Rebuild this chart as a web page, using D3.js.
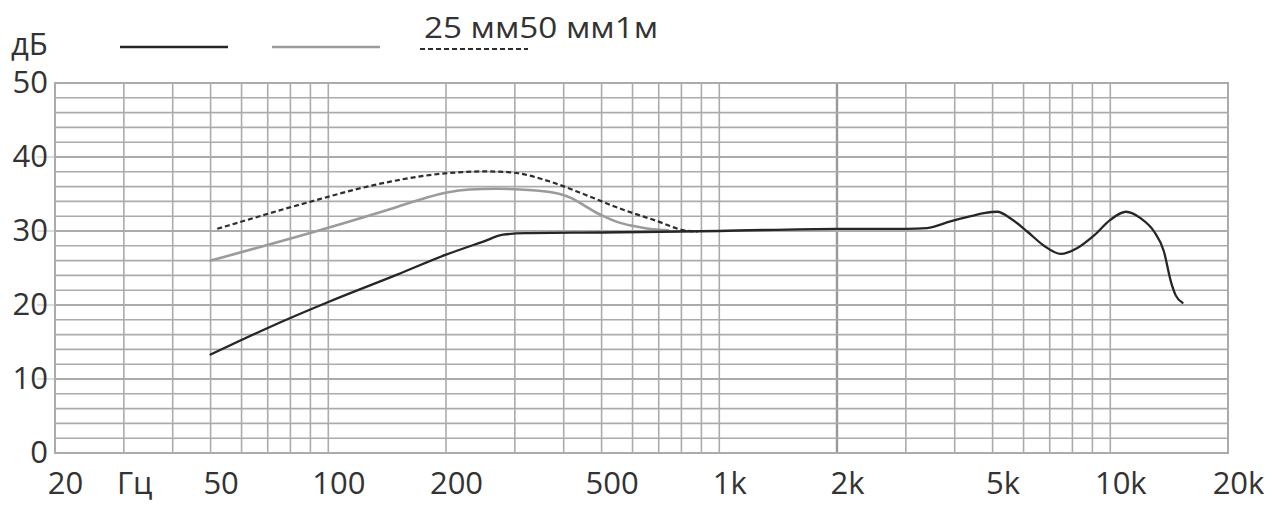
<!DOCTYPE html>
<html><head><meta charset="utf-8">
<script src="https://cdn.jsdelivr.net/npm/d3@7"></script>
<style>
body{margin:0;background:#fff;}
svg{display:block;background:#fff;}
text{font-family:"Open Sans","Noto Sans",sans-serif;fill:#333;}
</style>
</head><body>
<svg id="c" width="1273" height="507"></svg>
<script>
// ---------- data ----------
const seriesNames = ["25 мм", "50 мм", "1м"];

const freq25 = [50, 70, 100, 150, 200, 250, 280, 320, 500, 1000, 2000, 3000, 3400, 3900, 4400, 4750, 5140, 5560, 6140, 6770, 7470, 8240, 9090, 10000, 10960, 11970, 12950, 13700, 14300, 14700, 15300];
const db25   = [13.3, 16.9, 20.4, 24.1, 26.8, 28.6, 29.5, 29.7, 29.8, 30.0, 30.3, 30.3, 30.4, 31.3, 32.0, 32.4, 32.6, 31.7, 29.9, 28.0, 26.9, 27.7, 29.4, 31.5, 32.6, 31.7, 29.9, 27.3, 23.1, 21.3, 20.3];

const freq50 = [50, 101, 145, 178, 201, 230, 270, 333, 391, 420, 450, 480, 510, 550, 600, 660, 740];
const db50   = [26.0, 30.5, 33.0, 34.5, 35.2, 35.6, 35.7, 35.5, 35.0, 34.4, 33.5, 32.6, 31.9, 31.2, 30.7, 30.3, 30.1];

const freq1m = [52, 63, 77.5, 95, 117, 145, 178, 219, 250, 280, 306, 368, 454, 559, 688, 812, 880];
const db1m   = [30.3, 31.6, 33.0, 34.3, 35.6, 36.7, 37.5, 37.95, 38.05, 38.0, 37.8, 36.7, 34.9, 33.0, 31.4, 30.1, 29.9];

const xTickValues = [20, 50, 100, 200, 500, 1000, 2000, 5000, 10000, 20000];
const xTickLabels = ["20", "50", "100", "200", "500", "1k", "2k", "5k", "10k", "20k"];
const yTickValues = [0, 10, 20, 30, 40, 50];
const xUnit = "Гц";
const yUnit = "дБ";

// ---------- layout ----------
const svg = d3.select("#c");
const L = 55, R = 1228, T = 83, B = 453;
const x = d3.scaleLog().domain([20, 20000]).range([L, R]);
const y = d3.scaleLinear().domain([0, 50]).range([B, T]);

const gridColor = "#ababab";

// vertical grid (1..9 per decade)
const vLines = [];
[10, 100, 1000, 10000].forEach(d => {
  for (let m = 1; m <= 9; m++) { const v = m * d; if (v > 20 && v < 20000) vLines.push(v); }
});
// horizontal grid every 2 dB
const hLines = d3.range(0, 51, 2);

const grid = svg.append("g");
grid.selectAll("line.v").data(vLines).join("line")
  .attr("x1", d => x(d)).attr("x2", d => x(d)).attr("y1", T).attr("y2", B)
  .attr("stroke", d => d === 2000 ? "#999" : gridColor)
  .attr("stroke-width", d => d === 2000 ? 2.4 : 1.6);
grid.selectAll("line.h").data(hLines).join("line")
  .attr("x1", L).attr("x2", R).attr("y1", d => y(d)).attr("y2", d => y(d))
  .attr("stroke", gridColor)
  .attr("stroke-width", d => (d % 10 === 0 && d > 0 && d < 50) ? 2.2 : 1.6);
// faint extensions of the major lines to the left
grid.selectAll("line.ext").data(yTickValues.filter(d => d > 0 && d < 50)).join("line")
  .attr("x1", L - 18).attr("x2", L).attr("y1", d => y(d)).attr("y2", d => y(d))
  .attr("stroke", "#d4d4d4").attr("stroke-width", 1.6);
grid.append("rect").attr("x", L).attr("y", T).attr("width", R - L).attr("height", B - T)
  .attr("fill", "none").attr("stroke", gridColor).attr("stroke-width", 2);

// axes
const yAxis = d3.axisLeft(y).tickValues(yTickValues).tickSize(0).tickPadding(7).tickFormat(d3.format("d"));
const gy = svg.append("g").attr("transform", `translate(${L},0)`).call(yAxis);
gy.select(".domain").remove();
gy.selectAll("text").attr("font-size", 31).attr("font-family", null).attr("fill", "#333")
  .attr("dy", "0.32em").attr("y", 0);

const xAxis = d3.axisBottom(x).tickValues(xTickValues).tickSize(0).tickPadding(0)
  .tickFormat((d, i) => xTickLabels[i]);
const gx = svg.append("g").attr("transform", `translate(0,${B})`).call(xAxis);
gx.select(".domain").remove();
gx.selectAll("text").attr("font-size", 31).attr("font-family", null).attr("fill", "#333")
  .attr("dy", null).attr("y", 41).attr("dx", 10);

svg.append("text").attr("x", 117).attr("y", B + 41).attr("font-size", 31).text(xUnit);
svg.append("text").attr("x", 11).attr("y", 55).attr("font-size", 31).text(yUnit);

// series
const styles = [
  {color: "#262626", width: 2.3, dash: null},
  {color: "#9b9b9b", width: 2.6, dash: null},
  {color: "#2e2e2e", width: 2.2, dash: "5,3"}
];
const series = [
  {name: seriesNames[0], f: freq25, v: db25},
  {name: seriesNames[1], f: freq50, v: db50},
  {name: seriesNames[2], f: freq1m, v: db1m}
];
const line = d3.line().x(d => x(d[0])).y(d => y(d[1])).curve(d3.curveMonotoneX);

const drawOrder = [2, 1, 0];
drawOrder.forEach(i => {
  const s = series[i], st = styles[i];
  svg.append("path")
    .datum(s.f.map((f, k) => [f, s.v[k]]))
    .attr("fill", "none").attr("stroke", st.color).attr("stroke-width", st.width)
    .attr("stroke-dasharray", st.dash).attr("stroke-linecap", st.dash ? "butt" : "round").attr("stroke-linejoin", "round")
    .attr("d", line);
});

// legend
const legendX = [120, 272, 420];
const legendY = [47, 47, 49];
series.forEach((s, i) => {
  svg.append("line").attr("x1", legendX[i]).attr("x2", legendX[i] + 108)
    .attr("y1", legendY[i]).attr("y2", legendY[i])
    .attr("stroke", styles[i].color).attr("stroke-width", styles[i].width)
    .attr("stroke-dasharray", styles[i].dash);
});
const lt = svg.append("text").attr("x", 424).attr("y", 38).attr("font-size", 29)
  .attr("textLength", 234).attr("lengthAdjust", "spacingAndGlyphs");
series.forEach(s => lt.append("tspan").text(s.name));
</script>
</body></html>
